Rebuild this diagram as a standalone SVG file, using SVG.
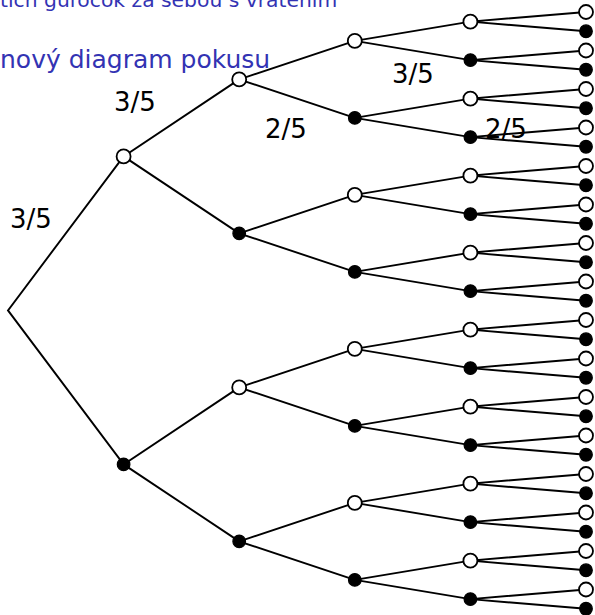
<svg xmlns="http://www.w3.org/2000/svg" width="595" height="615" viewBox="0 0 595 615">
  <style>
    .title { font-family: "DejaVu Sans", "Noto Sans", sans-serif; fill: #3333b3; }
    .lbl { font-family: "DejaVu Sans", "Noto Sans", sans-serif; font-size: 26px; fill: #000; }
    .edge { fill: none; stroke: #000; stroke-width: 1.9; stroke-linejoin: miter; }
    .o { fill: #fff; stroke: #000; stroke-width: 1.8; }
    .f { fill: #000; stroke: #000; stroke-width: 1.2; }
  </style>
  <rect width="595" height="615" fill="#fff"/>

  <!-- headings -->
  <text class="title" x="0" y="7" font-size="20.3">tich guľôčok za sebou s vrátením</text>
  <text class="title" x="0" y="68" font-size="25">nový diagram pokusu</text>

  <!-- branches: one path per parent, child-parent-child -->
  <g id="connectors" class="edge">
    <path d="M123.6 156.375 L8 310.375 L123.6 464.375"/>
    <path d="M239.2 79.375 L123.6 156.375 L239.2 233.375"/>
    <path d="M239.2 387.375 L123.6 464.375 L239.2 541.375"/>
    <path d="M354.8 40.875 L239.2 79.375 L354.8 117.875"/>
    <path d="M354.8 194.875 L239.2 233.375 L354.8 271.875"/>
    <path d="M354.8 348.875 L239.2 387.375 L354.8 425.875"/>
    <path d="M354.8 502.875 L239.2 541.375 L354.8 579.875"/>
    <path d="M470.4 21.625 L354.8 40.875 L470.4 60.125"/>
    <path d="M470.4 98.625 L354.8 117.875 L470.4 137.125"/>
    <path d="M470.4 175.625 L354.8 194.875 L470.4 214.125"/>
    <path d="M470.4 252.625 L354.8 271.875 L470.4 291.125"/>
    <path d="M470.4 329.625 L354.8 348.875 L470.4 368.125"/>
    <path d="M470.4 406.625 L354.8 425.875 L470.4 445.125"/>
    <path d="M470.4 483.625 L354.8 502.875 L470.4 522.125"/>
    <path d="M470.4 560.625 L354.8 579.875 L470.4 599.125"/>
    <path d="M586 12 L470.4 21.625 L586 31.25"/>
    <path d="M586 50.5 L470.4 60.125 L586 69.75"/>
    <path d="M586 89 L470.4 98.625 L586 108.25"/>
    <path d="M586 127.5 L470.4 137.125 L586 146.75"/>
    <path d="M586 166 L470.4 175.625 L586 185.25"/>
    <path d="M586 204.5 L470.4 214.125 L586 223.75"/>
    <path d="M586 243 L470.4 252.625 L586 262.25"/>
    <path d="M586 281.5 L470.4 291.125 L586 300.75"/>
    <path d="M586 320 L470.4 329.625 L586 339.25"/>
    <path d="M586 358.5 L470.4 368.125 L586 377.75"/>
    <path d="M586 397 L470.4 406.625 L586 416.25"/>
    <path d="M586 435.5 L470.4 445.125 L586 454.75"/>
    <path d="M586 474 L470.4 483.625 L586 493.25"/>
    <path d="M586 512.5 L470.4 522.125 L586 531.75"/>
    <path d="M586 551 L470.4 560.625 L586 570.25"/>
    <path d="M586 589.5 L470.4 599.125 L586 608.75"/>
  </g>

  <!-- level 1 -->
  <g id="n2"><circle class="o" cx="123.6" cy="156.375" r="7"/></g>
  <g id="n3"><circle class="f" cx="123.6" cy="464.375" r="6.3"/></g>
  <!-- level 2 -->
  <g id="n4"><circle class="o" cx="239.2" cy="79.375" r="7"/></g>
  <g id="n5"><circle class="f" cx="239.2" cy="233.375" r="6.3"/></g>
  <g id="n6"><circle class="o" cx="239.2" cy="387.375" r="7"/></g>
  <g id="n7"><circle class="f" cx="239.2" cy="541.375" r="6.3"/></g>
  <!-- level 3 -->
  <g id="n8"><circle class="o" cx="354.8" cy="40.875" r="7"/></g>
  <g id="n9"><circle class="f" cx="354.8" cy="117.875" r="6.3"/></g>
  <g id="n10"><circle class="o" cx="354.8" cy="194.875" r="7"/></g>
  <g id="n11"><circle class="f" cx="354.8" cy="271.875" r="6.3"/></g>
  <g id="n12"><circle class="o" cx="354.8" cy="348.875" r="7"/></g>
  <g id="n13"><circle class="f" cx="354.8" cy="425.875" r="6.3"/></g>
  <g id="n14"><circle class="o" cx="354.8" cy="502.875" r="7"/></g>
  <g id="n15"><circle class="f" cx="354.8" cy="579.875" r="6.3"/></g>
  <!-- level 4 -->
  <g id="n16"><circle class="o" cx="470.4" cy="21.625" r="7"/></g>
  <g id="n17"><circle class="f" cx="470.4" cy="60.125" r="6.3"/></g>
  <g id="n18"><circle class="o" cx="470.4" cy="98.625" r="7"/></g>
  <g id="n19"><circle class="f" cx="470.4" cy="137.125" r="6.3"/></g>
  <g id="n20"><circle class="o" cx="470.4" cy="175.625" r="7"/></g>
  <g id="n21"><circle class="f" cx="470.4" cy="214.125" r="6.3"/></g>
  <g id="n22"><circle class="o" cx="470.4" cy="252.625" r="7"/></g>
  <g id="n23"><circle class="f" cx="470.4" cy="291.125" r="6.3"/></g>
  <g id="n24"><circle class="o" cx="470.4" cy="329.625" r="7"/></g>
  <g id="n25"><circle class="f" cx="470.4" cy="368.125" r="6.3"/></g>
  <g id="n26"><circle class="o" cx="470.4" cy="406.625" r="7"/></g>
  <g id="n27"><circle class="f" cx="470.4" cy="445.125" r="6.3"/></g>
  <g id="n28"><circle class="o" cx="470.4" cy="483.625" r="7"/></g>
  <g id="n29"><circle class="f" cx="470.4" cy="522.125" r="6.3"/></g>
  <g id="n30"><circle class="o" cx="470.4" cy="560.625" r="7"/></g>
  <g id="n31"><circle class="f" cx="470.4" cy="599.125" r="6.3"/></g>
  <!-- level 5 -->
  <g id="n32"><circle class="o" cx="586" cy="12" r="7"/></g>
  <g id="n33"><circle class="f" cx="586" cy="31.25" r="6.3"/></g>
  <g id="n34"><circle class="o" cx="586" cy="50.5" r="7"/></g>
  <g id="n35"><circle class="f" cx="586" cy="69.75" r="6.3"/></g>
  <g id="n36"><circle class="o" cx="586" cy="89" r="7"/></g>
  <g id="n37"><circle class="f" cx="586" cy="108.25" r="6.3"/></g>
  <g id="n38"><circle class="o" cx="586" cy="127.5" r="7"/></g>
  <g id="n39"><circle class="f" cx="586" cy="146.75" r="6.3"/></g>
  <g id="n40"><circle class="o" cx="586" cy="166" r="7"/></g>
  <g id="n41"><circle class="f" cx="586" cy="185.25" r="6.3"/></g>
  <g id="n42"><circle class="o" cx="586" cy="204.5" r="7"/></g>
  <g id="n43"><circle class="f" cx="586" cy="223.75" r="6.3"/></g>
  <g id="n44"><circle class="o" cx="586" cy="243" r="7"/></g>
  <g id="n45"><circle class="f" cx="586" cy="262.25" r="6.3"/></g>
  <g id="n46"><circle class="o" cx="586" cy="281.5" r="7"/></g>
  <g id="n47"><circle class="f" cx="586" cy="300.75" r="6.3"/></g>
  <g id="n48"><circle class="o" cx="586" cy="320" r="7"/></g>
  <g id="n49"><circle class="f" cx="586" cy="339.25" r="6.3"/></g>
  <g id="n50"><circle class="o" cx="586" cy="358.5" r="7"/></g>
  <g id="n51"><circle class="f" cx="586" cy="377.75" r="6.3"/></g>
  <g id="n52"><circle class="o" cx="586" cy="397" r="7"/></g>
  <g id="n53"><circle class="f" cx="586" cy="416.25" r="6.3"/></g>
  <g id="n54"><circle class="o" cx="586" cy="435.5" r="7"/></g>
  <g id="n55"><circle class="f" cx="586" cy="454.75" r="6.3"/></g>
  <g id="n56"><circle class="o" cx="586" cy="474" r="7"/></g>
  <g id="n57"><circle class="f" cx="586" cy="493.25" r="6.3"/></g>
  <g id="n58"><circle class="o" cx="586" cy="512.5" r="7"/></g>
  <g id="n59"><circle class="f" cx="586" cy="531.75" r="6.3"/></g>
  <g id="n60"><circle class="o" cx="586" cy="551" r="7"/></g>
  <g id="n61"><circle class="f" cx="586" cy="570.25" r="6.3"/></g>
  <g id="n62"><circle class="o" cx="586" cy="589.5" r="7"/></g>
  <g id="n63"><circle class="f" cx="586" cy="608.75" r="6.3"/></g>

  <!-- branch probabilities -->
  <g id="labels" class="lbl">
    <text x="10" y="228">3/5</text>
    <text x="114" y="111">3/5</text>
    <text x="265" y="138">2/5</text>
    <text x="392" y="83">3/5</text>
    <text x="485" y="138">2/5</text>
  </g>
</svg>
